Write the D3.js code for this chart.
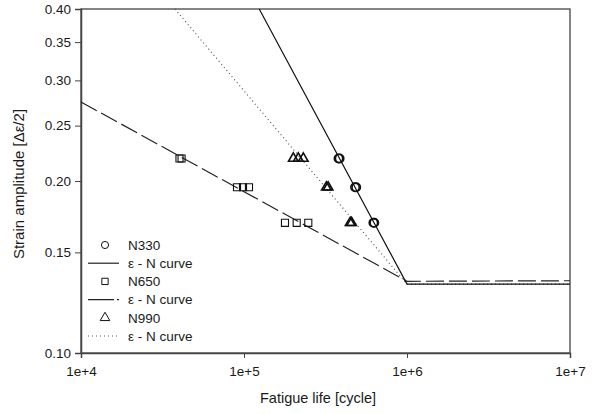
<!DOCTYPE html>
<html>
<head>
<meta charset="utf-8">
<title>Strain - fatigue life</title>
<style>
  body { margin: 0; background: #fff; }
  svg { font-family: "Liberation Sans", Arial, sans-serif; }
  .axis text { font-size: 13.5px; fill: #1a1a1a; }
  .axis path, .axis line { stroke: #444; }
</style>
</head>
<body>
<script src="https://cdn.jsdelivr.net/npm/d3@7"></script>
<script>

// tick values
var xTicks = [1e4, 1e5, 1e6, 1e7];
var yTicks = [0.10, 0.15, 0.20, 0.25, 0.30, 0.35, 0.40];

// test points (overlapping specimens drawn twice)
var n330Life   = [3.80e5, 3.86e5, 4.80e5, 4.88e5, 6.22e5, 6.30e5];
var n330Strain = [0.219, 0.219, 0.195, 0.195, 0.169, 0.169];

var n650Life   = [4.02e4, 4.14e4, 9.06e4, 9.86e4, 1.073e5, 1.784e5, 2.105e5, 2.48e5];
var n650Strain = [0.219, 0.219, 0.195, 0.195, 0.195, 0.169, 0.169, 0.169];

var n990Life   = [2.007e5, 2.154e5, 2.311e5, 3.20e5, 3.28e5, 4.48e5, 4.57e5];
var n990Strain = [0.219, 0.219, 0.219, 0.195, 0.195, 0.169, 0.169];

// fitted e-N curves
var n330CurveLife   = [1.24e5, 1e6, 1e7];
var n330CurveStrain = [0.40, 0.132, 0.132];
var n650CurveLife   = [1e4, 1e6, 1e7];
var n650CurveStrain = [0.275, 0.1335, 0.1338];
var n990CurveLife   = [3.77e4, 1e6, 1e7];
var n990CurveStrain = [0.40, 0.132, 0.132];

var legendLabels = ["N330", "\u03b5 - N curve", "N650", "\u03b5 - N curve", "N990", "\u03b5 - N curve"];

var margin = {top: 9, right: 24, bottom: 61, left: 81},
    width  = 594 - margin.left - margin.right,
    height = 414 - margin.top - margin.bottom;

var svg = d3.select("body").append("svg")
  .attr("width", 594)
  .attr("height", 414);

var chart = svg.append("g")
  .attr("transform", "translate(" + margin.left + "," + margin.top + ")");

var x = d3.scaleLog().domain([1e4, 1e7]).range([0, width]);
var y = d3.scaleLog().domain([0.10, 0.40]).range([height, 0]);

// frame
chart.append("rect")
  .attr("width", width).attr("height", height)
  .attr("fill", "none").attr("stroke", "#444").attr("stroke-width", 1.3);

// axes
chart.append("g")
  .attr("class", "axis")
  .call(d3.axisLeft(y).tickValues(yTicks).tickFormat(d3.format(".2f")).tickSize(6).tickPadding(4))
  .call(function(g){ g.select(".domain").attr("stroke-width", 1.5); });

chart.append("g")
  .attr("class", "axis")
  .attr("transform", "translate(0," + height + ")")
  .call(d3.axisBottom(x).tickValues(xTicks).tickSize(5).tickPadding(8)
    .tickFormat(function(d){ return "1e+" + Math.round(Math.log10(d)); }))
  .call(function(g){ g.select(".domain").attr("stroke-width", 1.5); });

// axis titles
svg.append("text")
  .attr("x", 318).attr("y", 403)
  .attr("text-anchor", "middle")
  .style("font-size", "14.5px").style("fill", "#1a1a1a")
  .text("Fatigue life [cycle]");

svg.append("text")
  .attr("transform", "translate(24," + 184 + ") rotate(-90)")
  .attr("text-anchor", "middle")
  .style("font-size", "15px").style("fill", "#1a1a1a")
  .text("Strain amplitude [\u0394\u03b5/2]");

// curves
var line = d3.line()
  .x(function(d){ return x(d[0]); })
  .y(function(d){ return y(d[1]); });

var curves = [
  {life: n650CurveLife, strain: n650CurveStrain, dash: "18,5", color: "#222", w: 1.2},
  {life: n990CurveLife, strain: n990CurveStrain, dash: "1,3", color: "#555", w: 1.2},
  {life: n330CurveLife, strain: n330CurveStrain, dash: null, color: "#111", w: 1.2}
];

curves.forEach(function(c){
  chart.append("path")
    .datum(d3.zip(c.life, c.strain))
    .attr("d", line)
    .attr("fill", "none")
    .attr("stroke", c.color)
    .attr("stroke-width", c.w)
    .attr("stroke-dasharray", c.dash);
});

// markers
var sym = {
  circle: d3.symbol().type(d3.symbolCircle).size(55),
  square: d3.symbol().type(d3.symbolSquare).size(50),
  triangle: d3.symbol().type(d3.symbolTriangle).size(40)
};

function drawPoints(life, strain, shape) {
  chart.append("g")
    .selectAll("path")
    .data(d3.zip(life, strain))
    .join("path")
    .attr("transform", function(d){ return "translate(" + x(d[0]) + "," + y(d[1]) + ")"; })
    .attr("d", sym[shape])
    .attr("fill", "none")
    .attr("stroke", "#111")
    .attr("stroke-width", shape === "square" ? 1.1 : 1.6);
}

drawPoints(n650Life, n650Strain, "square");
drawPoints(n990Life, n990Strain, "triangle");
drawPoints(n330Life, n330Strain, "circle");

// legend
var legend = svg.append("g")
  .attr("transform", "translate(88,245)");

var rows = legend.selectAll("g")
  .data(legendLabels)
  .join("g")
  .attr("transform", function(d, i){ return "translate(0," + (i * 18.2) + ")"; });

rows.append("text")
  .attr("x", 40).attr("dy", "0.35em")
  .style("font-size", "13.5px").style("fill", "#1a1a1a")
  .text(function(d){ return d; });

var legendShapes = ["circle", "square", "triangle"];
rows.filter(function(d, i){ return i % 2 === 0; })
  .append("path")
  .attr("transform", "translate(17,0)")
  .attr("d", function(d, i){ return d3.symbol().type(
      legendShapes[i] === "circle" ? d3.symbolCircle : legendShapes[i] === "square" ? d3.symbolSquare : d3.symbolTriangle
    ).size(40)(); })
  .attr("fill", "none").attr("stroke", "#111").attr("stroke-width", 1);

var legendDash = [null, "26,3", "1,3"];
rows.filter(function(d, i){ return i % 2 === 1; })
  .append("line")
  .attr("x1", 0).attr("x2", 31)
  .attr("stroke", function(d, i){ return i === 2 ? "#555" : "#222"; })
  .attr("stroke-width", 1.2)
  .attr("stroke-dasharray", function(d, i){ return legendDash[i]; });

</script>
</body>
</html>
